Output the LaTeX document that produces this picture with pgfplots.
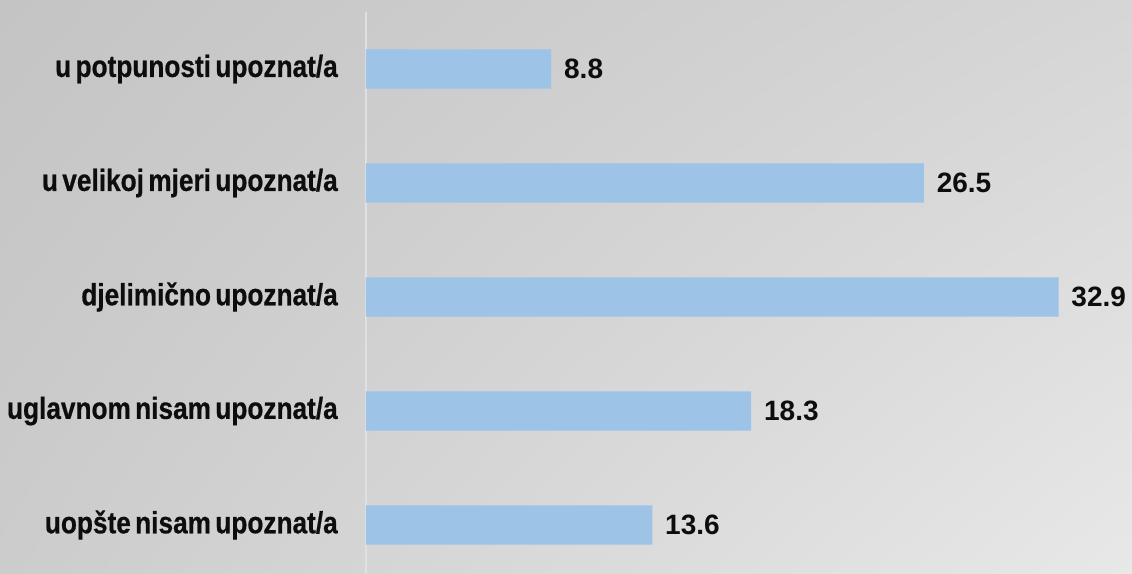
\documentclass[border=0pt]{standalone}
\usepackage{pgfplots}
\pgfplotsset{compat=1.18}
\usetikzlibrary{shadings}
\usepackage{fontspec}
\setmainfont{Liberation Sans}
\newfontfamily\labelfont[FakeStretch=0.855, WordSpace=0.6, FakeBold=0.6]{Liberation Sans}
\definecolor{barblue}{RGB}{157,195,230}
\definecolor{bgul}{RGB}{196,196,196}
\definecolor{bgur}{RGB}{214,214,214}
\definecolor{bgll}{RGB}{204,204,204}
\definecolor{bglr}{RGB}{232,232,232}
\definecolor{axline}{RGB}{224,224,224}
\definecolor{txt}{RGB}{13,13,13}
\begin{document}
\begin{tikzpicture}
\shade[upper left=bgul, upper right=bgur, lower left=bgll, lower right=bglr] (0,0) rectangle (849pt,-430.5pt);
\useasboundingbox (0,0) rectangle (849pt,-430.5pt);
\begin{axis}[
  at={(274.5pt,-9pt)}, anchor=north west,
  scale only axis,
  width=568.35pt, height=427.5pt,
  xbar, bar width=29.5pt,
  xmin=0, xmax=36,
  ymin=-0.5, ymax=4.5,
  y dir=reverse,
  hide x axis,
  axis y line*=left,
  y axis line style={draw=axline, line width=1.5pt, -},
  ytick={0,1,2,3,4},
  yticklabels={u potpunosti upoznat/a, u velikoj mjeri upoznat/a, djelimično upoznat/a, uglavnom nisam upoznat/a, uopšte nisam upoznat/a},
  major tick length=0pt,
  ytick style={draw=none},
  yticklabel style={font=\labelfont\bfseries\fontsize{23}{25}\selectfont, text=txt, inner sep=0pt, anchor=east, xshift=-21pt},
  nodes near coords,
  nodes near coords style={font=\bfseries\fontsize{21}{24}\selectfont, text=txt, anchor=west, inner sep=0pt, xshift=9.5pt},
  /pgf/number format/.cd, fixed, fixed zerofill, precision=1, assume math mode=true,
]
\addplot[fill=barblue, draw=none] coordinates {(8.8,0) (26.5,1) (32.9,2) (18.3,3) (13.6,4)};
\end{axis}
\end{tikzpicture}
\end{document}
